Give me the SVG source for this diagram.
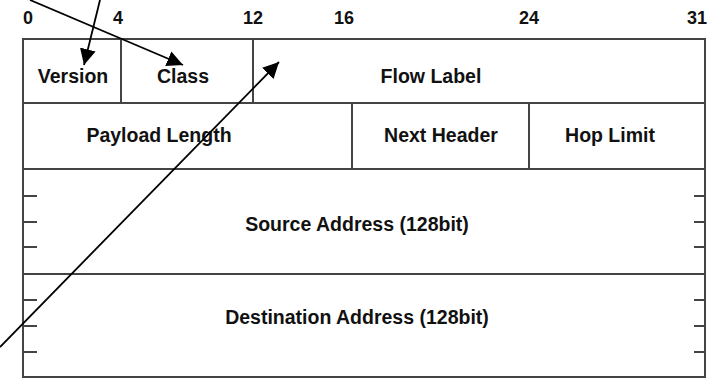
<svg xmlns="http://www.w3.org/2000/svg" width="712" height="378" viewBox="0 0 712 378">
<style>
.cell{fill:#fff;stroke:#444;stroke-width:2}
.tick{stroke:#444;stroke-width:2}
.lbl{font-family:"Liberation Sans",Arial,sans-serif;font-weight:bold;font-size:19.5px;fill:#111;text-anchor:middle}
.num{font-family:"Liberation Sans",Arial,sans-serif;font-weight:bold;font-size:18px;fill:#111;text-anchor:middle}
.conn{stroke:#000;stroke-width:1.8;fill:none}
</style>
<defs>
<marker id="ah" markerUnits="userSpaceOnUse" markerWidth="18" markerHeight="16" refX="16" refY="8" orient="auto">
<path d="M0,0 L16,8 L0,16 Z" fill="#000"/>
</marker>
</defs>
<rect width="712" height="378" fill="#fff"/>
<g id="scale">
<text class="num" x="28" y="24">0</text>
<text class="num" x="118" y="24">4</text>
<text class="num" x="253" y="24">12</text>
<text class="num" x="344" y="24">16</text>
<text class="num" x="529" y="24">24</text>
<text class="num" x="697" y="24">31</text>
</g>
<g id="version"><rect class="cell" x="23" y="39" width="98" height="64"/><text class="lbl" x="73" y="83">Version</text></g>
<g id="class"><rect class="cell" x="121" y="39" width="132" height="64"/><text class="lbl" x="183" y="83">Class</text></g>
<g id="flow-label"><rect class="cell" x="253" y="39" width="452" height="64"/><text class="lbl" x="431" y="83">Flow  Label</text></g>
<g id="payload-length"><rect class="cell" x="23" y="103" width="329" height="66"/><text class="lbl" x="159" y="142">Payload Length</text></g>
<g id="next-header"><rect class="cell" x="352" y="103" width="177" height="66"/><text class="lbl" x="441" y="142">Next Header</text></g>
<g id="hop-limit"><rect class="cell" x="529" y="103" width="176" height="66"/><text class="lbl" x="610" y="142">Hop Limit</text></g>
<g id="source-address"><rect class="cell" x="23" y="169" width="682" height="105"/>
<path class="tick" d="M23,196H37M23,222H37M23,247H37M694,196H705M694,222H705M694,247H705"/>
<text class="lbl" x="357" y="231">Source Address (128bit)</text></g>
<g id="destination-address"><rect class="cell" x="23" y="274" width="682" height="103"/>
<path class="tick" d="M23,300H37M23,326H37M23,352H37M694,300H705M694,326H705M694,352H705"/>
<text class="lbl" x="357" y="324">Destination Address (128bit)</text></g>
<g id="connectors">
<line class="conn" x1="100" y1="0" x2="84" y2="65" marker-end="url(#ah)"/>
<line class="conn" x1="30" y1="0" x2="183" y2="65" marker-end="url(#ah)"/>
<line class="conn" x1="0" y1="347" x2="279" y2="62" marker-end="url(#ah)"/>
</g>
</svg>
